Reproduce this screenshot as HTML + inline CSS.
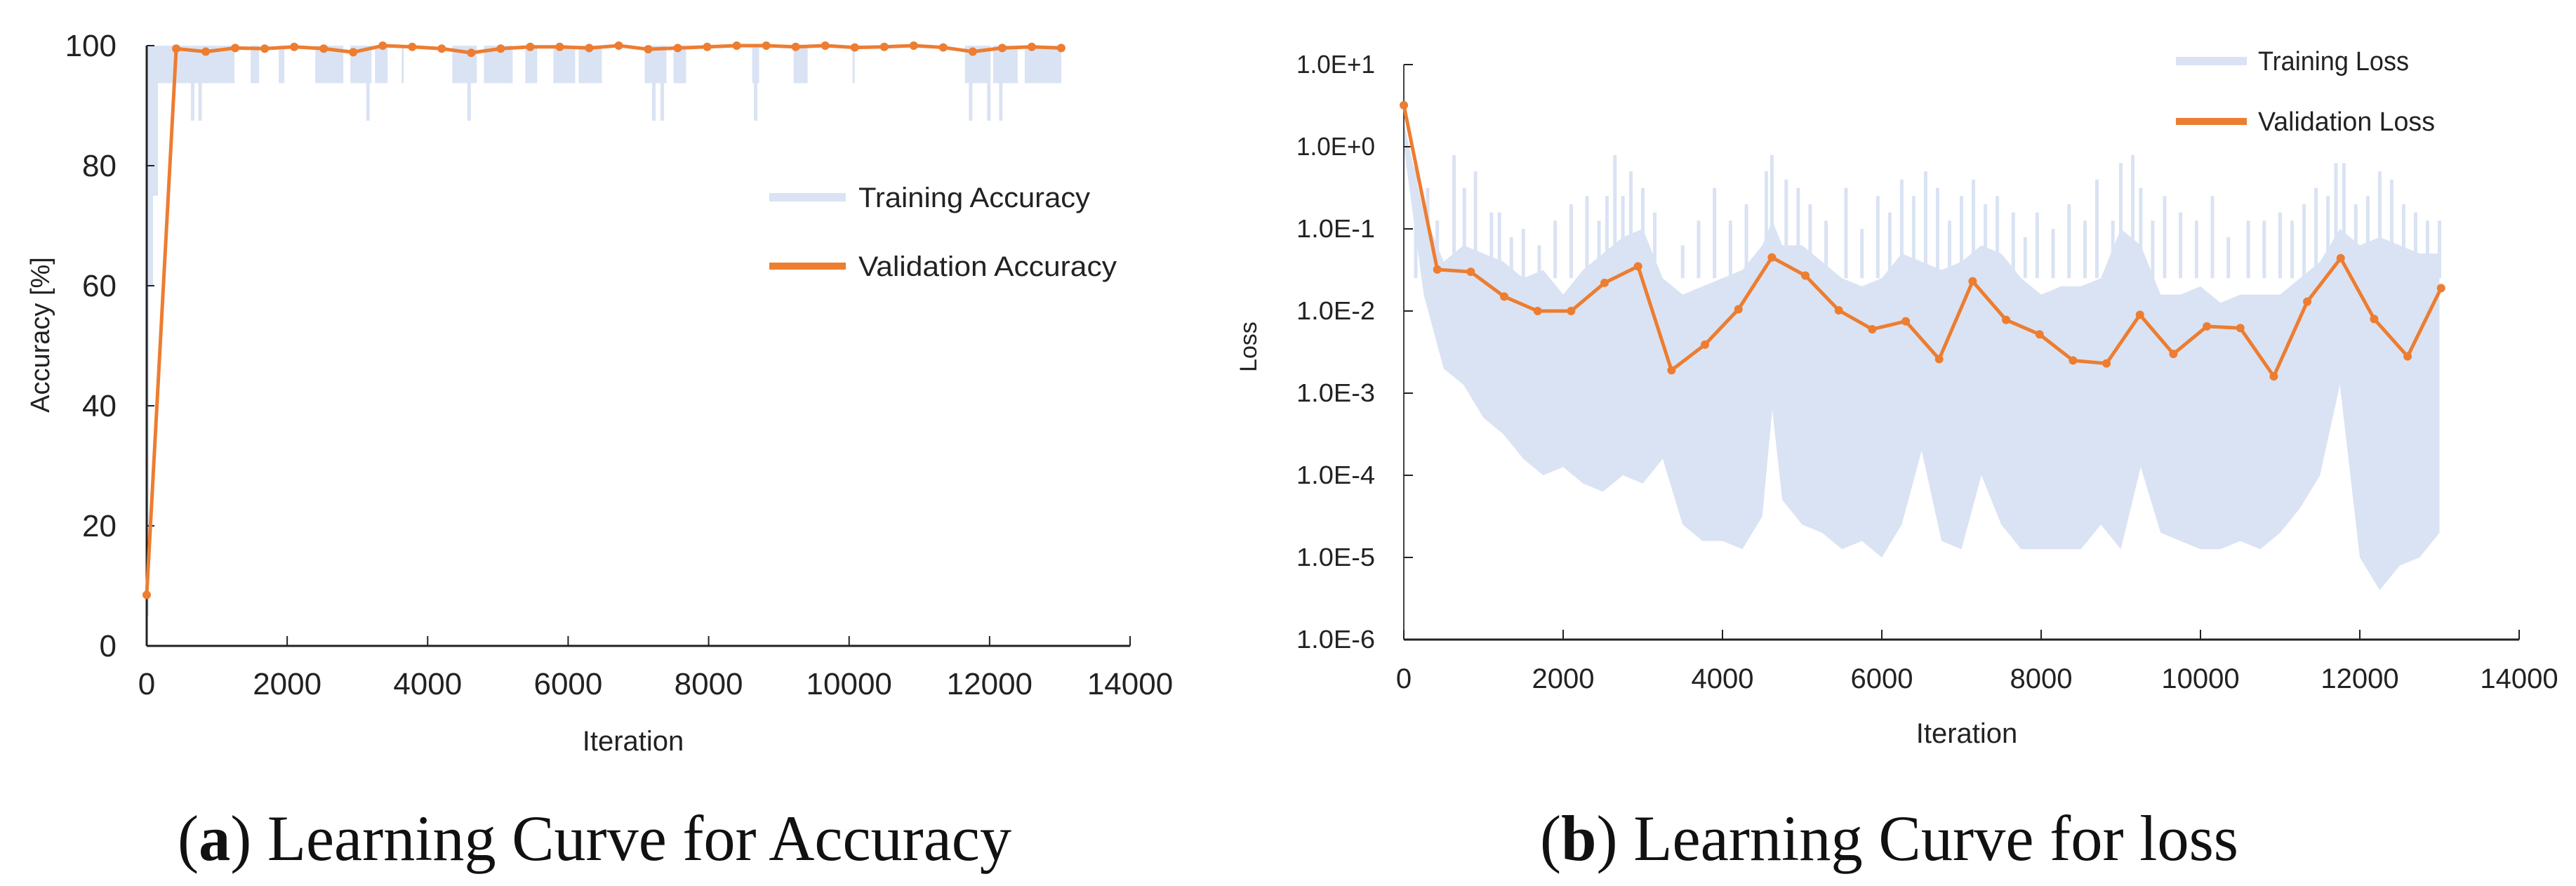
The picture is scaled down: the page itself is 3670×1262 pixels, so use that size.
<!DOCTYPE html>
<html><head><meta charset="utf-8"><style>
html,body{margin:0;padding:0;background:#fff;}
svg{display:block;}
.tk{font-family:"Liberation Sans Narrow","Liberation Sans",sans-serif;fill:#222;}
.cap{font-family:"Liberation Serif",serif;fill:#111;}
</style></head><body>
<svg id="svg" width="3670" height="1262" viewBox="0 0 3670 1262" xmlns="http://www.w3.org/2000/svg">
<g id="chartA"></g>
<g id="chartB"></g>
<text class="cap" x="253" y="1225" font-size="92" textLength="1188" lengthAdjust="spacingAndGlyphs">(<tspan font-weight="bold">a</tspan>) Learning Curve for Accuracy</text>
<text class="cap" x="2194" y="1225" font-size="92" textLength="995" lengthAdjust="spacingAndGlyphs">(<tspan font-weight="bold">b</tspan>) Learning Curve for loss</text>
</svg>
<script>
const NS='http://www.w3.org/2000/svg';
const valIters=[0,420,840,1260,1680,2100,2520,2940,3360,3780,4200,4620,5040,5460,5880,6300,6720,7140,7560,7980,8400,8820,9240,9660,10080,10500,10920,11340,11760,12180,12600,13020];
const valAcc=[8.5,99.5,99.0,99.6,99.5,99.8,99.5,98.9,100,99.8,99.5,98.8,99.5,99.8,99.8,99.6,100,99.4,99.6,99.8,100,100,99.8,100,99.7,99.8,100,99.7,99.0,99.6,99.8,99.6];
const valLoss=[3.2,0.032,0.030,0.015,0.010,0.010,0.022,0.035,0.0019,0.0039,0.0105,0.045,0.027,0.0102,0.006,0.0075,0.0026,0.023,0.0078,0.0052,0.0025,0.0023,0.009,0.003,0.0065,0.0062,0.0016,0.013,0.044,0.008,0.0028,0.019];
const trainAccStart=[0,30,90,160,1480,1880,2400,2900,3250,3630,4350,4800,5390,5790,6150,7090,7500,8620,9210,10050,11650,12050,12500];
const trainAccEnd=[30,90,160,1250,1600,1960,2800,3200,3430,3660,4700,5210,5560,6100,6480,7400,7680,8720,9410,10080,12000,12400,13020];
const trainAccMin=[5,60,75,93.75,93.75,93.75,93.75,93.75,93.75,93.75,93.75,93.75,93.75,93.75,93.75,93.75,93.75,93.75,93.75,93.75,93.75,93.75,93.75];
const accDipIters=[655,760,3150,4590,7220,7340,8670,11730,11990,12160];
const accDipVals=[87.5,87.5,87.5,87.5,87.5,87.5,87.5,87.5,87.5,87.5];
// training loss dense band (log10)
const lossEnvIters=[0,250,500,750,1000,1250,1500,1750,2000,2250,2500,2750,3000,3250,3500,3750,4000,4250,4500,4625,4750,5000,5250,5500,5750,6000,6250,6500,6750,7000,7250,7500,7750,8000,8250,8500,8750,9000,9250,9500,9750,10000,10250,10500,10750,11000,11250,11500,11750,12000,12250,12500,12750,13000];
const lossUpper=[0.3,-0.8,-1.4,-1.2,-1.3,-1.4,-1.6,-1.5,-1.8,-1.5,-1.3,-1.1,-1.0,-1.6,-1.8,-1.7,-1.6,-1.5,-1.2,-0.9,-1.2,-1.2,-1.4,-1.6,-1.7,-1.6,-1.3,-1.4,-1.5,-1.4,-1.2,-1.3,-1.6,-1.8,-1.7,-1.7,-1.6,-1.0,-1.2,-1.8,-1.8,-1.7,-1.9,-1.8,-1.8,-1.8,-1.6,-1.4,-1.0,-1.2,-1.1,-1.2,-1.3,-1.3];
const lossLower=[0,-1.8,-2.7,-2.9,-3.3,-3.5,-3.8,-4.0,-3.9,-4.1,-4.2,-4.0,-4.1,-3.8,-4.6,-4.8,-4.8,-4.9,-4.5,-3.2,-4.3,-4.6,-4.7,-4.9,-4.8,-5.0,-4.6,-3.7,-4.8,-4.9,-4.0,-4.6,-4.9,-4.9,-4.9,-4.9,-4.6,-4.9,-3.9,-4.7,-4.8,-4.9,-4.9,-4.8,-4.9,-4.7,-4.4,-4.0,-2.9,-5.0,-5.4,-5.1,-5.0,-4.7];
// individual upward spikes (iteration, log10 peak)
const spikeIters=[150,300,420,630,760,900,1100,1200,1350,1500,1700,1900,2100,2300,2450,2550,2650,2750,2850,3000,3150,3500,3700,3900,4100,4300,4550,4620,4800,4950,5100,5300,5550,5750,5950,6100,6250,6400,6550,6700,6850,7000,7150,7300,7450,7650,7800,7950,8150,8350,8550,8700,8900,9000,9150,9250,9400,9550,9750,9950,10150,10350,10600,10800,11000,11150,11300,11450,11600,11700,11800,11950,12100,12250,12400,12550,12700,12850,13000];
const spikeVals=[-0.2,-0.5,-0.9,-0.1,-0.5,-0.3,-0.8,-0.8,-1.1,-1.0,-1.2,-0.9,-0.7,-0.6,-0.9,-0.6,-0.1,-0.6,-0.3,-0.5,-0.8,-1.2,-0.9,-0.5,-0.9,-0.7,-0.3,-0.1,-0.4,-0.5,-0.7,-0.9,-0.5,-1.0,-0.6,-0.8,-0.4,-0.6,-0.3,-0.5,-0.9,-0.6,-0.4,-0.7,-0.6,-0.8,-1.1,-0.8,-1.0,-0.7,-0.9,-0.4,-0.9,-0.2,-0.1,-0.5,-0.9,-0.6,-0.8,-0.9,-0.6,-1.1,-0.9,-0.9,-0.8,-0.9,-0.7,-0.5,-0.6,-0.2,-0.2,-0.7,-0.6,-0.3,-0.4,-0.7,-0.8,-0.9,-0.9];
const xTicks=[0,2000,4000,6000,8000,10000,12000,14000];
const accTicks=[0,20,40,60,80,100];
const lossTickExp=[1,0,-1,-2,-3,-4,-5,-6];
const lossTickLabels=['1.0E+1','1.0E+0','1.0E-1','1.0E-2','1.0E-3','1.0E-4','1.0E-5','1.0E-6'];

function mk(tag,attrs,parent){const e=document.createElementNS(NS,tag);for(const k in attrs)e.setAttribute(k,attrs[k]);parent.appendChild(e);return e;}
const TRAIN='#dae3f3',VAL='#ed7d31';

// ---- Chart A ----
const A=document.getElementById('chartA');
const ax=v=>209+(v/14000)*(1610-209);
const ay=v=>920-(v/100)*(920-65);
for(let i=0;i<trainAccStart.length;i++){
  const r=mk('rect',{x:ax(trainAccStart[i]),y:ay(100),width:Math.max(3,ax(trainAccEnd[i])-ax(trainAccStart[i])),height:ay(trainAccMin[i])-ay(100),fill:TRAIN},A);
  
  
}
for(let i=0;i<accDipIters.length;i++){
  const l=mk('line',{x1:ax(accDipIters[i]),x2:ax(accDipIters[i]),y1:ay(100),y2:ay(accDipVals[i]),stroke:TRAIN,'stroke-width':5},A);
  
  
}
let e;
e=mk('line',{x1:209,y1:65,x2:209,y2:920,stroke:'#222','stroke-width':3},A);

e=mk('line',{x1:209,y1:920,x2:1610,y2:920,stroke:'#222','stroke-width':3},A);

accTicks.forEach(t=>{
  const l=mk('line',{x1:209,x2:220,y1:ay(t),y2:ay(t),stroke:'#222','stroke-width':2},A);
  
  
  const tx=mk('text',{x:166,y:ay(t)+15,'text-anchor':'end','font-size':44,class:'tk'},A);
  tx.textContent=t;
  
  
});
xTicks.forEach(t=>{
  const l=mk('line',{x1:ax(t),x2:ax(t),y1:920,y2:906,stroke:'#222','stroke-width':2},A);
  
  
  const tx=mk('text',{x:ax(t),y:989,'text-anchor':'middle','font-size':44,class:'tk'},A);
  tx.textContent=t;
  
  
});
let pa=valIters.map((v,i)=>ax(v)+','+ay(valAcc[i])).join(' ');
e=mk('polyline',{points:pa,fill:'none',stroke:VAL,'stroke-width':5},A);

valIters.forEach((v,i)=>{
  const c=mk('circle',{cx:ax(v),cy:ay(valAcc[i]),r:6,fill:VAL},A);
  
  
});
e=mk('text',{x:902,y:1069,'text-anchor':'middle','font-size':40,class:'tk'},A);e.textContent='Iteration';

e=mk('text',{x:0,y:0,'text-anchor':'middle','font-size':38,class:'tk',transform:'translate(70,477) rotate(-90)'},A);e.textContent='Accuracy [%]';

e=mk('line',{x1:1096,x2:1205,y1:281,y2:281,stroke:TRAIN,'stroke-width':12},A);

e=mk('text',{x:1223,y:295,'font-size':40,class:'tk',textLength:330,lengthAdjust:'spacingAndGlyphs'},A);e.textContent='Training Accuracy';

e=mk('line',{x1:1096,x2:1205,y1:379,y2:379,stroke:VAL,'stroke-width':10},A);

e=mk('text',{x:1223,y:393,'font-size':40,class:'tk',textLength:368,lengthAdjust:'spacingAndGlyphs'},A);e.textContent='Validation Accuracy';


// ---- Chart B ----
const B=document.getElementById('chartB');
const bx=v=>2000+(v/14000)*(3589-2000);
const byl=lg=>92+(1-lg)*((911-92)/7);
const by=v=>byl(Math.log10(v));
let env=lossEnvIters.map((v,i)=>bx(v)+','+byl(lossUpper[i]));
for(let i=lossEnvIters.length-1;i>=0;i--)env.push(bx(lossEnvIters[i])+','+byl(lossLower[i]));
e=mk('polygon',{points:env.join(' '),fill:TRAIN},B);

spikeIters.forEach((v,i)=>{
  const s=mk('line',{x1:bx(v),x2:bx(v),y1:byl(-1.6),y2:byl(spikeVals[i]),stroke:TRAIN,'stroke-width':5},B);
  
  
});
e=mk('line',{x1:2000,y1:92,x2:2000,y2:911,stroke:'#444','stroke-width':2},B);

e=mk('line',{x1:2000,y1:911,x2:3589,y2:911,stroke:'#222','stroke-width':3},B);

lossTickExp.forEach((t,i)=>{
  const l=mk('line',{x1:2000,x2:2013,y1:byl(t),y2:byl(t),stroke:'#222','stroke-width':2},B);
  
  
  const tx=mk('text',{x:1959,y:byl(t)+12,'text-anchor':'end','font-size':36,class:'tk',textLength:112,lengthAdjust:'spacingAndGlyphs'},B);
  tx.textContent=lossTickLabels[i];
  
  
});
xTicks.forEach(t=>{
  const l=mk('line',{x1:bx(t),x2:bx(t),y1:911,y2:897,stroke:'#222','stroke-width':2},B);
  
  
  const tx=mk('text',{x:bx(t),y:980,'text-anchor':'middle','font-size':40,class:'tk'},B);
  tx.textContent=t;
  
  
});
let pb=valIters.map((v,i)=>bx(v)+','+by(valLoss[i])).join(' ');
e=mk('polyline',{points:pb,fill:'none',stroke:VAL,'stroke-width':5},B);

valIters.forEach((v,i)=>{
  const c=mk('circle',{cx:bx(v),cy:by(valLoss[i]),r:6,fill:VAL},B);
  
  
});
e=mk('text',{x:2802,y:1058,'text-anchor':'middle','font-size':40,class:'tk'},B);e.textContent='Iteration';

e=mk('text',{x:0,y:0,'text-anchor':'middle','font-size':34,class:'tk',transform:'translate(1790,494) rotate(-90)'},B);e.textContent='Loss';

e=mk('line',{x1:3100,x2:3201,y1:87,y2:87,stroke:TRAIN,'stroke-width':12},B);

e=mk('text',{x:3217,y:100,'font-size':38,class:'tk',textLength:215,lengthAdjust:'spacingAndGlyphs'},B);e.textContent='Training Loss';

e=mk('line',{x1:3100,x2:3201,y1:173,y2:173,stroke:VAL,'stroke-width':10},B);

e=mk('text',{x:3217,y:186,'font-size':38,class:'tk',textLength:252,lengthAdjust:'spacingAndGlyphs'},B);e.textContent='Validation Loss';

</script>
</body></html>
